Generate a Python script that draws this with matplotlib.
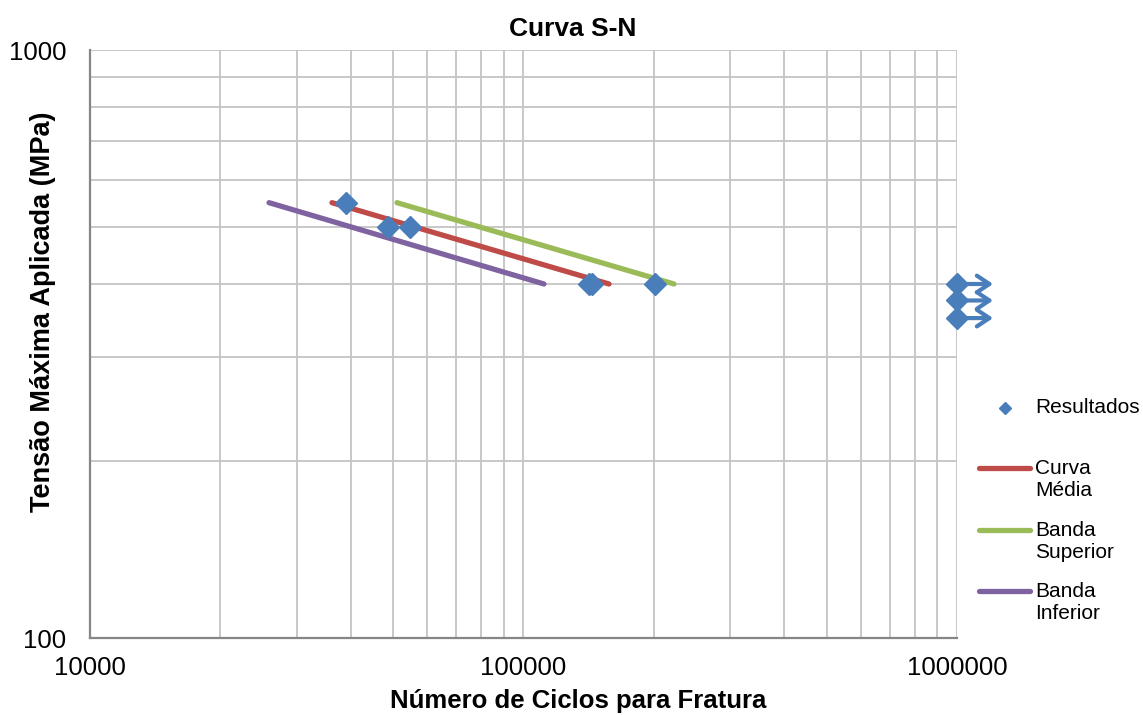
import matplotlib
matplotlib.use("Agg")
import matplotlib.pyplot as plt
from matplotlib.lines import Line2D
from matplotlib.ticker import LogLocator, NullFormatter, FixedFormatter, FixedLocator

plt.rcParams['font.family'] = ['Liberation Sans', 'DejaVu Sans']

# ---------------- data ----------------
result_cycles = [39000, 48700, 54700, 141600, 143900, 201000]
result_stress = [550, 500, 500, 400, 400, 400]

runout_cycles = [1000000, 1000000, 1000000]
runout_stress = [400, 375, 350]

media_cycles = [36150, 157500]
media_stress = [550, 400]
superior_cycles = [51060, 222400]
superior_stress = [550, 400]
inferior_cycles = [25880, 111500]
inferior_stress = [550, 400]

x_ticks = [10000, 100000, 1000000]
x_tick_labels = ["10000", "100000", "1000000"]
y_ticks = [100, 1000]
y_tick_labels = ["100", "1000"]

legend_labels = ["Resultados", "Curva\nMédia", "Banda\nSuperior", "Banda\nInferior"]

BLUE = "#4a7ebb"
RED = "#be4b48"
GREEN = "#9bbb59"
PURPLE = "#7f63a1"

W, H = 1143, 715
fig = plt.figure(figsize=(W / 100, H / 100), dpi=100)
ax = fig.add_axes([90 / W, 1 - 638 / H, (957 - 90) / W, (638 - 50) / H])
ax.set_xscale('log')
ax.set_yscale('log')
ax.set_xlim(10000, 1000000)
ax.set_ylim(100, 1000)

# grid
ax.xaxis.set_minor_locator(LogLocator(base=10, subs=range(2, 10)))
ax.yaxis.set_minor_locator(LogLocator(base=10, subs=range(2, 10)))
ax.grid(True, which='both', color='#c4c4c4', lw=1.3)
ax.set_axisbelow(True)

for s in ['top', 'right']:
    ax.spines[s].set_visible(False)
for s in ['left', 'bottom']:
    ax.spines[s].set_color('#868686')
    ax.spines[s].set_linewidth(1.6)

ax.xaxis.set_major_locator(FixedLocator(x_ticks))
ax.xaxis.set_major_formatter(FixedFormatter(x_tick_labels))
ax.yaxis.set_major_locator(FixedLocator(y_ticks))
ax.yaxis.set_major_formatter(FixedFormatter(y_tick_labels))
ax.xaxis.set_minor_formatter(NullFormatter())
ax.yaxis.set_minor_formatter(NullFormatter())
ax.tick_params(which='both', length=0)
ax.tick_params(axis='x', labelsize=18.5, pad=13)
ax.tick_params(axis='y', labelsize=18.5, pad=17)

# curves
ax.plot(media_cycles, media_stress, color=RED, lw=3.8, solid_capstyle='round', zorder=3)
ax.plot(superior_cycles, superior_stress, color=GREEN, lw=3.8, solid_capstyle='round', zorder=3)
ax.plot(inferior_cycles, inferior_stress, color=PURPLE, lw=3.8, solid_capstyle='round', zorder=3)

# results
ax.plot(result_cycles, result_stress, linestyle='none', marker='D', ms=11,
        color=BLUE, zorder=5)

# run-outs with arrows
for n, s in zip(runout_cycles, runout_stress):
    ax.annotate('', xy=(n, s), xytext=(26, 0), textcoords='offset points',
                arrowprops=dict(arrowstyle='<-, head_length=0.9, head_width=0.6',
                                lw=3.0, color=BLUE, shrinkA=0, shrinkB=0),
                annotation_clip=False, zorder=4)
ax.plot(runout_cycles, runout_stress, linestyle='none', marker='D', ms=11,
        color=BLUE, zorder=6, clip_on=False)

# titles
fig.text(573 / W, 1 - 29 / H, "Curva S-N", ha='center', va='center',
         fontsize=19, fontweight='bold')
ax.set_xlabel("Número de Ciclos para Fratura", fontsize=18.5, fontweight='bold')
ax.xaxis.set_label_coords((578 - 90) / 867, (638 - 701) / 588)
ax.xaxis.label.set_va('center')
ax.set_ylabel("Tensão Máxima Aplicada (MPa)", fontsize=19.5, fontweight='bold')
ax.yaxis.set_label_coords((43 - 90) / 867, (638 - 312) / 588)
ax.yaxis.label.set_va('center')

# legend (manual, Excel-like)
fig.add_artist(Line2D([1005 / W], [1 - 408 / H], marker='D', ms=6.5, color=BLUE,
                      linestyle='none'))
fig.text(1035 / W, 1 - 408 / H, legend_labels[0], fontsize=15, va='center', ha='left')
line_colors = [RED, GREEN, PURPLE]
line_y = [468, 530, 591]
for lab, c, yy in zip(legend_labels[1:], line_colors, line_y):
    fig.add_artist(Line2D([979 / W, 1030 / W], [1 - yy / H, 1 - yy / H], color=c,
                          lw=3.8, solid_capstyle='round'))
    fig.text(1035 / W, 1 - (yy - 9) / H, lab, fontsize=15, va='top', ha='left',
             linespacing=1.2)

fig.savefig("out.png", dpi=100)
